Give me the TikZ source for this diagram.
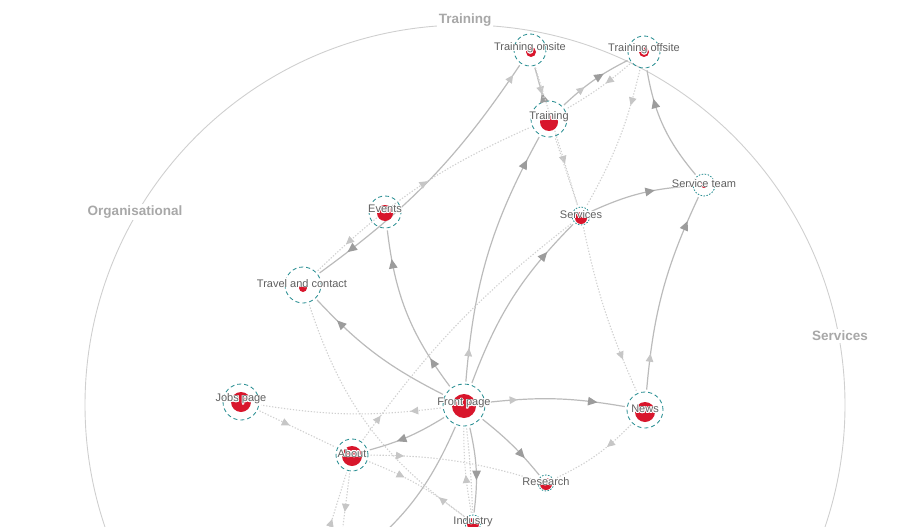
\documentclass[tikz,border=0pt]{standalone}
\usepackage{fontspec}
\setmainfont{Liberation Sans}
\usepackage[copies]{contour}
\contourlength{0.7pt}
\usetikzlibrary{arrows.meta,decorations.markings}
\definecolor{redc}{HTML}{D8162C}
\definecolor{tealc}{HTML}{2B8F93}
\definecolor{labc}{HTML}{606060}
\definecolor{catc}{HTML}{A8A8A8}
\definecolor{circc}{HTML}{CFCFCF}
\definecolor{sedgec}{HTML}{BBBBBB}
\definecolor{dedgec}{HTML}{D0D0D0}
\definecolor{arrdark}{HTML}{9C9C9C}
\definecolor{arrlight}{HTML}{C6C6C6}
\newcommand{\halo}[1]{\contour{white}{#1}}
\tikzset{
  ring/.style={circle, draw=tealc, dash pattern=on 4pt off 3pt, line width=0.85pt, inner sep=0pt, outer sep=2.5pt, minimum size=#1},
  dring/.style={circle, draw=tealc, dash pattern=on 1.5pt off 1.5pt, line width=0.85pt, inner sep=0pt, outer sep=2.5pt, minimum size=#1},
  lab/.style={text=labc, font=\fontsize{11}{12}\selectfont, inner sep=0pt},
  cat/.style={text=catc, font=\fontsize{13.5}{15}\selectfont\bfseries, fill=white, inner sep=2pt},
  sedge/.style={draw=sedgec, line width=1.2pt},
  dedge/.style={draw=dedgec, line width=1.1pt, dash pattern=on 1.3pt off 1.7pt},
  darr/.style={postaction={decorate, decoration={markings, mark=at position #1 with {\arrow{Triangle[length=9.5pt,width=8.5pt,color=arrdark]}}}}},
  larr/.style={postaction={decorate, decoration={markings, mark=at position #1 with {\arrow{Triangle[length=8pt,width=7.5pt,color=arrlight]}}}}},
  larrrev/.style={postaction={decorate, decoration={markings, mark=at position #1 with {\arrowreversed{Triangle[length=8pt,width=7.5pt,color=arrlight]}}}}},
}
\begin{document}
\begin{tikzpicture}[x=1pt,y=-1pt]
\useasboundingbox (0,0) rectangle (915,527);
\clip (0,0) rectangle (915,527);
% outer circle
\draw[circc, line width=0.9pt] (465,405) circle (380);
\node[cat] (catT) at (465,20) {Training};
\node[cat] (catO) at (135,212) {Organisational};
\node[cat] (catS) at (840,336) {Services};
% nodes (rings)
\node[ring=32] (ton) at (530,50) {};
\node[ring=32] (toff) at (644,52) {};
\node[ring=36] (tr) at (549,119) {};
\node[ring=32] (ev) at (385,212) {};
\node[ring=36] (tc) at (303,285) {};
\node[dring=18] (sv) at (581,216) {};
\node[dring=22] (st) at (704,185) {};
\node[ring=42] (fp) at (464,405) {};
\node[ring=36] (nw) at (645,410) {};
\node[ring=36] (jp) at (241,402) {};
\node[ring=32] (ab) at (352,455) {};
\node[dring=16] (rs) at (546,483) {};
\node[dring=16] (ind) at (473,523) {};
\coordinate (offA) at (345,565);
\coordinate (offB) at (318,565);
\coordinate (offC) at (338,565);
% solid edges
\draw[sedge, darr=0.2, darr=0.83] (fp) to[bend left=15] (ev);
\draw[sedge, darr=0.82] (fp) to[bend left=10] (tc);
\draw[sedge, larr=0.13, darr=0.9] (fp) to[bend left=12] (tr);
\draw[sedge, darr=0.8] (fp) to[bend left=12] (sv);
\draw[sedge, larr=0.22, darr=0.8] (fp) to[bend left=8] (nw);
\draw[sedge, darr=0.72] (fp) to[bend left=6] (rs);
\draw[sedge, darr=0.62] (fp) to[bend left=10] (ind);
\draw[sedge, darr=0.65] (fp) to[bend left=8] (ab);
\draw[sedge] (fp) to[bend left=15] (offA);
\draw[sedge, larr=0.18, darr=0.87] (nw) to[bend left=10] (st);
\draw[sedge, darr=0.75] (st) to[bend left=15] (toff);
\draw[sedge, darr=0.65] (sv) to[bend left=10] (st);
\draw[sedge, darr=0.2] (tr) to (ton);
\draw[sedge, larr=0.35, darr=0.65] (tr) to[bend left=8] (toff);
\draw[sedge, larrrev=0.04, darr=0.88] (ton) to[bend left=10] (tc);
% dotted edges
\draw[dedge, larr=0.4] (toff) to[bend left=5] (tr);
\draw[dedge, larr=0.85] (ton) to (tr);
\draw[dedge, larr=0.7] (ton) to (sv);
\draw[dedge] (tr) to (sv);
\draw[dedge, larr=0.25] (toff) to[bend left=8] (sv);
\draw[dedge, larr=0.1] (ab) to[bend left=8] (sv);
\draw[dedge, larr=0.8] (sv) to[bend right=6] (nw);
\draw[dedge, larr=0.35] (nw) to[bend left=10] (rs);
\draw[dedge, larr=0.17] (fp) to[bend left=8] (jp);
\draw[dedge, larr=0.4] (jp) to (ab);
\draw[dedge, larr=0.2] (ab) to[bend left=8] (rs);
\draw[dedge, larr=0.35] (ab) to[bend left=8] (ind);
\draw[dedge, larr=0.12] (ind) to[bend left=18] (tc);
\draw[dedge, larr=0.45] (ind) to[bend left=5] (fp);
\draw[dedge] (fp) to[bend left=2] (ind);
\draw[dedge, larrrev=0.15, larr=0.55] (tc) to[bend left=10] (tr);
\draw[dedge, larr=0.5] (offB) to (ab);
\draw[dedge, larr=0.42] (ab) to (offC);
% red dots
\fill[redc] (531,52) circle (5);
\fill[redc] (644,52) circle (5);
\fill[redc] (549,122) circle (9);
\fill[redc] (385,213) circle (8);
\fill[redc] (303,288) circle (4);
\fill[redc] (581,218) circle (6);
\fill[redc] (704,185) circle (3);
\fill[redc] (464,406) circle (12);
\fill[redc] (645,412) circle (10);
\fill[redc] (241,402) circle (10);
\fill[redc] (352,456) circle (10);
\fill[redc] (546,484) circle (6);
\fill[redc] (473,524) circle (6);
% labels
\node[lab] (tonL) at (530,48.5) {\halo{Training onsite}};
\node[lab] (toffL) at (644,49.5) {\halo{Training offsite}};
\node[lab] (trL) at (549,117.5) {\halo{Training}};
\node[lab] (evL) at (385,209.5) {\halo{Events}};
\node[lab] (tcL) at (302,283.5) {\halo{Travel and contact}};
\node[lab] (svL) at (581,214.5) {\halo{Services}};
\node[lab] (stL) at (704,183.5) {\halo{Service team}};
\node[lab] (fpL) at (464,403.5) {\halo{Front page}};
\node[lab] (nwL) at (645,409.5) {\halo{News}};
\node[lab] (jpL) at (241,399.5) {\halo{Jobs page}};
\node[lab] (abL) at (352,453.5) {\halo{About}};
\node[lab] (rsL) at (546,481.5) {\halo{Research}};
\node[lab] (indL) at (473,521.5) {\halo{Industry}};
\end{tikzpicture}
\end{document}
